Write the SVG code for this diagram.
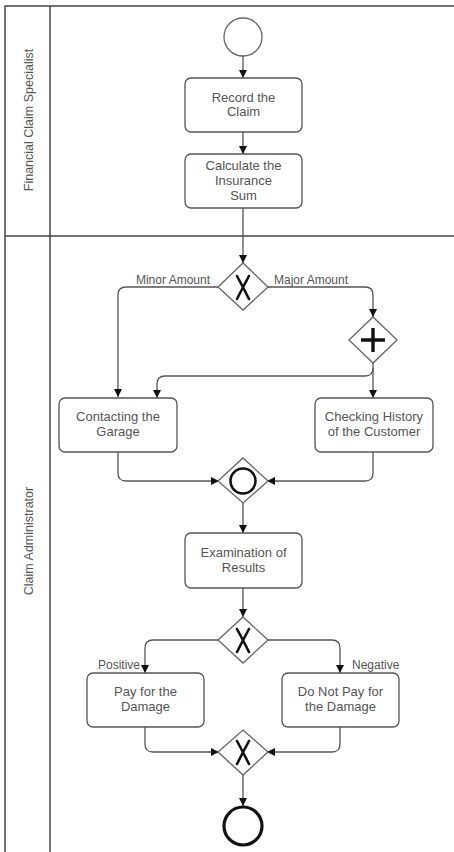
<svg xmlns="http://www.w3.org/2000/svg" width="454" height="852" viewBox="0 0 454 852">
<defs>
<style>
.lane{fill:none;stroke:#444;stroke-width:1.5}
.task rect{fill:#fff;stroke:#555;stroke-width:1.3}
.txt{font-family:"Liberation Sans",Arial,sans-serif;font-size:13px;fill:#555;text-anchor:middle}
.lbl{font-family:"Liberation Sans",Arial,sans-serif;font-size:12px;fill:#555}
.lanetxt{font-family:"Liberation Sans",Arial,sans-serif;font-size:12.5px;fill:#555;text-anchor:middle}
.gw polygon{fill:#fff;stroke:#666;stroke-width:1.3}
.mark{fill:none;stroke:#111;stroke-width:2.6;stroke-linecap:round}
.conn path{fill:none;stroke:#555;stroke-width:1.3}
</style>
<marker id="arr" markerWidth="8" markerHeight="8" refX="8" refY="4" orient="auto" markerUnits="userSpaceOnUse">
<path d="M0,0 L8,4 L0,8 Z" fill="#111"/>
</marker>
</defs>
<rect width="454" height="852" fill="#fff"/>
<g id="pool">
<path class="lane" d="M5,852 V6 H454 M50,6 V852 M5,236 H454"/>
<text class="lanetxt" transform="translate(33,120) rotate(-90)">Financial Claim Specialist</text>
<text class="lanetxt" transform="translate(33,541) rotate(-90)">Claim Administrator</text>
</g>
<g class="conn" id="connectors">
<path d="M243,56 V78" marker-end="url(#arr)"/>
<path d="M243,132 V154" marker-end="url(#arr)"/>
<path d="M243,208 V263" marker-end="url(#arr)"/>
<path d="M219,287 H126 Q118,287 118,295 V397" marker-end="url(#arr)"/>
<path d="M267,287 H365 Q373,287 373,295 V317" marker-end="url(#arr)"/>
<path d="M373,362 V398" marker-end="url(#arr)"/>
<path d="M373,368 Q373,376 365,376 H165 Q157,376 157,384 V398" marker-end="url(#arr)"/>
<path d="M118,452 V473 Q118,481 126,481 H219" marker-end="url(#arr)"/>
<path d="M373,452 V473 Q373,481 365,481 H267" marker-end="url(#arr)"/>
<path d="M243,503 V533" marker-end="url(#arr)"/>
<path d="M243,588 V617" marker-end="url(#arr)"/>
<path d="M219,640 H153 Q145,640 145,648 V673" marker-end="url(#arr)"/>
<path d="M267,640 H332 Q340,640 340,648 V673" marker-end="url(#arr)"/>
<path d="M145,727 V744 Q145,752 153,752 H219" marker-end="url(#arr)"/>
<path d="M340,727 V744 Q340,752 332,752 H267" marker-end="url(#arr)"/>
<path d="M243,775 V806" marker-end="url(#arr)"/>
<text class="lbl" x="210" y="284" text-anchor="end">Minor Amount</text>
<text class="lbl" x="274" y="284">Major Amount</text>
<text class="lbl" x="140" y="669" text-anchor="end">Positive</text>
<text class="lbl" x="352" y="669">Negative</text>
</g>
<g id="start"><circle cx="243" cy="37" r="19" fill="#fff" stroke="#666" stroke-width="1.3"/></g>
<g id="record" class="task"><rect x="185" y="78" width="117" height="54" rx="6"/><text class="txt" x="243.5" y="102">Record the</text><text class="txt" x="243.5" y="116">Claim</text></g>
<g id="calculate" class="task"><rect x="185" y="154" width="117" height="54" rx="6"/><text class="txt" x="243.5" y="170">Calculate the</text><text class="txt" x="243.5" y="185">Insurance</text><text class="txt" x="243.5" y="200">Sum</text></g>
<g id="gw1" class="gw"><polygon points="243,263 268,287 243,310 218,287"/><path class="mark" d="M237,276 Q243,287 249,299 M249,276 Q243,287 237,299"/></g>
<g id="gw2" class="gw"><polygon points="373,317 397,340 373,363 349,340"/><path class="mark" style="stroke-width:3.4;stroke-linecap:butt" d="M373,328 V352 M361,340 H385"/></g>
<g id="contact" class="task"><rect x="59" y="398" width="118" height="54" rx="6"/><text class="txt" x="118" y="421">Contacting the</text><text class="txt" x="118" y="436">Garage</text></g>
<g id="history" class="task"><rect x="315" y="398" width="118" height="54" rx="6"/><text class="txt" x="374" y="421">Checking History</text><text class="txt" x="374" y="436">of the Customer</text></g>
<g id="gw3" class="gw"><polygon points="243,458 268,481 243,503 218,481"/><circle cx="243" cy="481" r="12.5" fill="none" stroke="#111" stroke-width="2.6"/></g>
<g id="exam" class="task"><rect x="185" y="533" width="117" height="55" rx="6"/><text class="txt" x="243.5" y="557">Examination of</text><text class="txt" x="243.5" y="572">Results</text></g>
<g id="gw4" class="gw"><polygon points="243,617 268,640 243,663 218,640"/><path class="mark" d="M237,629 Q243,640 249,652 M249,629 Q243,640 237,652"/></g>
<g id="pay" class="task"><rect x="87" y="673" width="117" height="54" rx="6"/><text class="txt" x="145.5" y="696">Pay for the</text><text class="txt" x="145.5" y="711">Damage</text></g>
<g id="nopay" class="task"><rect x="282" y="673" width="117" height="54" rx="6"/><text class="txt" x="340.5" y="696">Do Not Pay for</text><text class="txt" x="340.5" y="711">the Damage</text></g>
<g id="gw5" class="gw"><polygon points="243,730 268,752 243,775 218,752"/><path class="mark" d="M237,741 Q243,752 249,764 M249,741 Q243,752 237,764"/></g>
<g id="end"><circle cx="243" cy="826" r="19" fill="#fff" stroke="#111" stroke-width="3.2"/></g>
</svg>
